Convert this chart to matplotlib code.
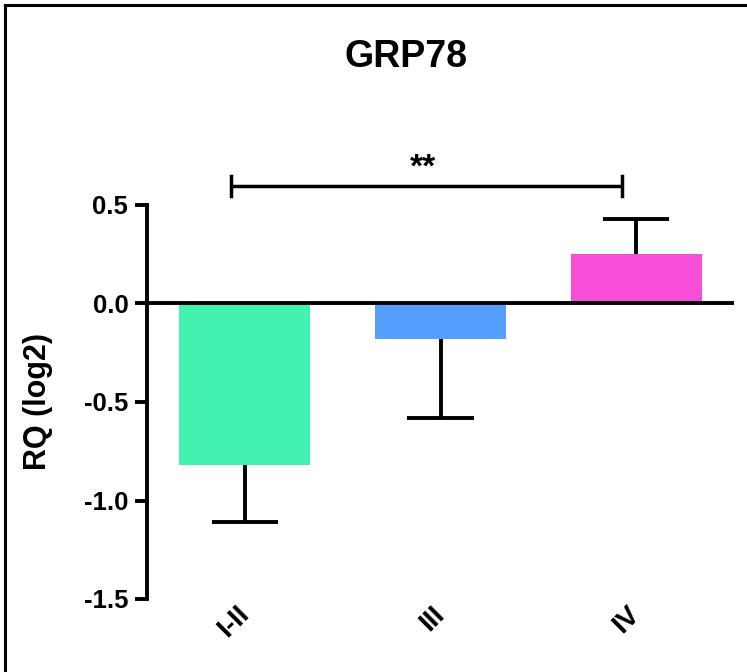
import numpy as np
import matplotlib; matplotlib.use("Agg")
import matplotlib.pyplot as plt
from matplotlib.lines import Line2D

plt.rcParams['font.family'] = ['Liberation Sans', 'DejaVu Sans']
plt.rcParams['font.weight'] = 'bold'

# --- data ---
groups = ['I-II', 'III', 'IV']
means = np.array([-0.82, -0.18, 0.25])
sems = np.array([0.29, 0.40, 0.18])
colors = ['#43F2B0', '#549EFD', '#F64ED6']
sig_pair = (0, 2)
sig_label = '**'

W, H = 747, 672
fig = plt.figure(figsize=(W/100, H/100), dpi=100)
ax = fig.add_axes([147/W, (H-599)/H, (734-147)/W, (599-205)/H])

x = np.arange(len(groups))
ax.bar(x, means, width=0.67, color=colors, zorder=2)

# one-sided error bars, pointing away from zero
dirs = np.sign(means)
ends = means + dirs*sems
ax.vlines(x, means, ends, color='k', lw=2.8, zorder=3)
ax.hlines(ends, x-0.17, x+0.17, color='k', lw=2.8, zorder=3)

ax.axhline(0, color='k', lw=2.8, zorder=4)

ax.set_xlim(-0.5, 2.5)
ax.set_ylim(-1.5, 0.5)
ax.set_yticks([-1.5, -1.0, -0.5, 0.0, 0.5])
ax.set_yticklabels(['-1.5', '-1.0', '-0.5', '0.0', '0.5'])
for s in ['top', 'right', 'bottom']:
    ax.spines[s].set_visible(False)
ax.spines['left'].set_linewidth(2.8)
ax.tick_params(axis='y', length=8.5, width=2.8, pad=5, labelsize=18.5)
ax.tick_params(axis='x', length=0, pad=8, labelsize=20)
ax.set_xticks(x)
ax.set_xticklabels(groups, rotation=45, ha='right', va='center', rotation_mode='anchor')

ax.set_ylabel('RQ (log2)', fontsize=22, fontweight='bold')
ax.yaxis.set_label_coords((53-147)/(734-147), 0.5)

# significance bracket
x0, x1 = sig_pair[0]-0.07, sig_pair[1]-0.07
yb, th = 0.595, 0.05
ax.plot([x0, x1], [yb, yb], color='k', lw=2.5, clip_on=False, solid_capstyle='butt')
ax.plot([x0, x0], [yb-th, yb+th], color='k', lw=2.5, clip_on=False)
ax.plot([x1, x1], [yb-th, yb+th], color='k', lw=2.5, clip_on=False)
ax.text((x0+x1)/2 - 0.02, yb+0.015, sig_label, ha='center', va='bottom', fontsize=24,
        fontweight='bold', clip_on=False)

fig.text(406/W, 1-57/H, 'GRP78', ha='center', va='center', fontsize=27, fontweight='bold')

# outer frame (only left and top edges show in the reference)
fy = 1-5/H; fx = 5/W
fig.add_artist(Line2D([fx, fx], [0, fy], color='k', lw=2.2, transform=fig.transFigure))
fig.add_artist(Line2D([fx, 1], [fy, fy], color='k', lw=2.2, transform=fig.transFigure))

fig.savefig('out.png', dpi=100)
